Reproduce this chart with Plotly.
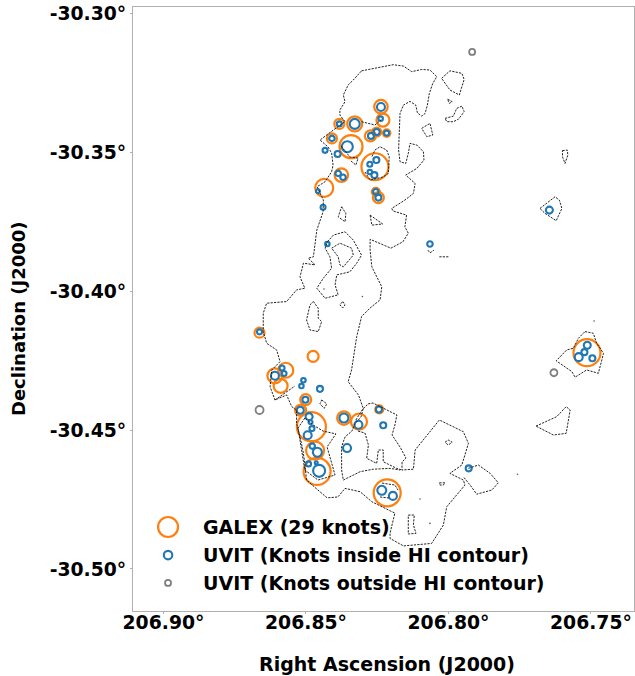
import plotly.graph_objects as go

X_TICKS = [206.90, 206.85, 206.80, 206.75]
X_LABELS = ["206.90°", "206.85°", "206.80°", "206.75°"]
Y_TICKS = [-30.30, -30.35, -30.40, -30.45, -30.50]
Y_LABELS = ["-30.30°", "-30.35°", "-30.40°", "-30.45°", "-30.50°"]

# Knot catalogues: (RA, Dec, apparent size)
GALEX = [
    (206.8237,-30.3337,13.5),(206.8230,-30.3385,13),(206.8329,-30.3399,15),(206.8383,-30.3399,10),
    (206.8409,-30.3451,10),(206.8274,-30.3442,11),(206.8252,-30.3428,9),(206.8217,-30.3432,7.5),
    (206.8342,-30.3481,23),(206.8258,-30.3553,27),(206.8376,-30.3583,13.5),(206.8436,-30.3629,18),
    (206.8255,-30.3643,8),(206.8246,-30.3664,11),(206.8663,-30.4150,10),(206.8475,-30.4235,11),
    (206.8571,-30.4285,15),(206.8609,-30.4305,15),(206.8589,-30.4341,14),(206.8501,-30.4391,11),
    (206.8519,-30.4429,11),(206.8481,-30.4488,29),(206.8367,-30.4457,13.5),(206.8314,-30.4470,16),
    (206.8243,-30.4426,8),(206.8468,-30.4574,18),(206.8461,-30.4649,27),(206.8215,-30.4726,27),
    (206.7514,-30.4222,27),
]
UVIT_IN = [
    (206.8237,-30.3338,8),(206.8238,-30.3380,4.5),(206.8329,-30.3399,10),(206.8383,-30.3399,5),
    (206.8409,-30.3451,5.5),(206.8433,-30.3494,5),(206.8389,-30.3507,6),(206.8355,-30.3481,11),
    (206.8272,-30.3442,6),(206.8252,-30.3428,6),(206.8217,-30.3432,5),(206.8253,-30.3529,6),
    (206.8276,-30.3544,5),(206.8276,-30.3572,4.5),(206.8260,-30.3583,6),(206.8387,-30.3577,5.5),
    (206.8370,-30.3591,5.5),(206.8458,-30.3641,4),(206.8255,-30.3643,5.5),(206.8246,-30.3664,6),
    (206.8440,-30.3699,5),(206.8425,-30.3831,4.5),(206.8065,-30.3831,5.5),(206.8663,-30.4147,5),
    (206.8584,-30.4277,5),(206.8577,-30.4297,5),(206.8609,-30.4305,8),(206.8509,-30.4321,4.5),
    (206.8516,-30.4342,4.5),(206.8451,-30.4352,6),(206.8502,-30.4391,6),(206.8520,-30.4429,7),
    (206.8489,-30.4452,7),(206.8484,-30.4472,4),(206.8479,-30.4495,5),(206.8494,-30.4519,8),
    (206.8367,-30.4457,9),(206.8316,-30.4481,8),(206.8244,-30.4426,6),(206.8229,-30.4483,6),
    (206.8356,-30.4565,8),(206.8478,-30.4558,5.5),(206.8460,-30.4580,9),(206.8491,-30.4622,5),
    (206.8464,-30.4618,3),(206.8454,-30.4647,12),(206.7929,-30.4638,6),(206.8234,-30.4717,9),
    (206.8195,-30.4737,8),(206.7646,-30.3709,7),(206.7513,-30.4195,7),(206.7523,-30.4220,6),
    (206.7543,-30.4238,8),(206.7495,-30.4242,6),
]
UVIT_OUT = [(206.7917,-30.3140,6),(206.8663,-30.4428,8),(206.7630,-30.4294,7)]

# HI contour tracings (RA, Dec)
HI_MAIN = [
    (206.8305,-30.3208),(206.8264,-30.3199),(206.8229,-30.3191),(206.8194,-30.3186),(206.8158,-30.3191),
    (206.8129,-30.3211),(206.8094,-30.3203),(206.8065,-30.3205),(206.8041,-30.3229),(206.8055,-30.3253),
    (206.8067,-30.3289),(206.8074,-30.3331),(206.8082,-30.3361),(206.8094,-30.3371),(206.8109,-30.3359),
    (206.8115,-30.3331),(206.8135,-30.3318),(206.8158,-30.3331),(206.8170,-30.3361),(206.8173,-30.3421),
    (206.8175,-30.3493),(206.8170,-30.3535),(206.8150,-30.3541),(206.8141,-30.3505),(206.8135,-30.3469),
    (206.8111,-30.3475),(206.8088,-30.3499),(206.8086,-30.3529),(206.8111,-30.3559),(206.8150,-30.3583),
    (206.8117,-30.3613),(206.8123,-30.3649),(206.8153,-30.3673),(206.8199,-30.3703),(206.8195,-30.3712),
    (206.8147,-30.3727),(206.8153,-30.3769),(206.8141,-30.3792),(206.8160,-30.3823),(206.8202,-30.3846),
    (206.8246,-30.3828),(206.8275,-30.3814),(206.8275,-30.3853),(206.8269,-30.3913),(206.8234,-30.3985),
    (206.8240,-30.4032),(206.8275,-30.4061),(206.8305,-30.4092),(206.8322,-30.4164),(206.8340,-30.4284),
    (206.8352,-30.4326),(206.8316,-30.4374),(206.8299,-30.4422),(206.8307,-30.4453),(206.8328,-30.4478),
    (206.8339,-30.4504),(206.8363,-30.4525),(206.8375,-30.4560),(206.8375,-30.4644),(206.8369,-30.4680),
    (206.8310,-30.4650),(206.8264,-30.4641),(206.8205,-30.4638),(206.8170,-30.4644),
]
HI_SOUTH = [
    (206.8325,-30.4464),(206.8303,-30.4428),(206.8282,-30.4406),(206.8265,-30.4403),(206.8216,-30.4428),
    (206.8181,-30.4446),(206.8188,-30.4482),(206.8198,-30.4518),(206.8170,-30.4561),(206.8149,-30.4601),
    (206.8163,-30.4615),(206.8163,-30.4644),(206.8123,-30.4641),(206.8117,-30.4572),(206.8032,-30.4464),
    (206.7948,-30.4506),(206.7930,-30.4548),(206.7953,-30.4626),(206.7995,-30.4656),(206.7948,-30.4680),
    (206.7942,-30.4698),(206.8006,-30.4776),(206.8018,-30.4842),(206.8059,-30.4908),(206.8158,-30.4917),
    (206.8205,-30.4890),(206.8205,-30.4871),(206.8188,-30.4799),(206.8246,-30.4770),(206.8269,-30.4758),
    (206.8310,-30.4722),(206.8363,-30.4710),(206.8388,-30.4741),(206.8426,-30.4744),(206.8458,-30.4716),
    (206.8498,-30.4680),(206.8504,-30.4620),(206.8511,-30.4572),(206.8521,-30.4524),(206.8533,-30.4476),
    (206.8533,-30.4428),(206.8550,-30.4416),(206.8568,-30.4374),(206.8609,-30.4392),(206.8626,-30.4344),
    (206.8620,-30.4284),(206.8591,-30.4254),(206.8603,-30.4212),(206.8638,-30.4188),(206.8650,-30.4146),
    (206.8650,-30.4080),(206.8638,-30.4044),(206.8568,-30.4038),(206.8533,-30.3996),(206.8504,-30.3990),
    (206.8521,-30.3949),(206.8509,-30.3900),(206.8468,-30.3906),(206.8492,-30.3882),(206.8474,-30.3877),
    (206.8462,-30.3781),(206.8440,-30.3715),(206.8439,-30.3673),(206.8461,-30.3625),(206.8433,-30.3607),
    (206.8410,-30.3571),(206.8405,-30.3547),(206.8410,-30.3504),(206.8423,-30.3481),(206.8451,-30.3457),
    (206.8404,-30.3421),(206.8363,-30.3391),(206.8381,-30.3367),(206.8381,-30.3349),(206.8363,-30.3319),
    (206.8369,-30.3295),(206.8352,-30.3259),(206.8334,-30.3241),(206.8305,-30.3208),
]
HI_PIECES = [
    [(206.8504,-30.4457),(206.8528,-30.4493),(206.8504,-30.4644),(206.8458,-30.4680),(206.8398,-30.4662),
     (206.8412,-30.4608),(206.8426,-30.4561),(206.8395,-30.4514),(206.8440,-30.4504),(206.8475,-30.4482),(206.8504,-30.4457)],
    [(206.8609,-30.4392),(206.8574,-30.4367),(206.8539,-30.4342)],
    [(206.8425,-30.3823),(206.8404,-30.3799),(206.8363,-30.3787),(206.8334,-30.3817),(206.8305,-30.3871),
     (206.8322,-30.3900),(206.8346,-30.3931),(206.8392,-30.3942),(206.8398,-30.3978),(206.8387,-30.4014),
     (206.8433,-30.4026),(206.8462,-30.3990),(206.8439,-30.3954),(206.8410,-30.3918),(206.8416,-30.3877),
     (206.8433,-30.3846),(206.8425,-30.3823)],
    [(206.8410,-30.3846),(206.8381,-30.3828),(206.8340,-30.3846),(206.8334,-30.3871),(206.8369,-30.3913),
     (206.8381,-30.3906),(206.8387,-30.3877),(206.8410,-30.3846)],
    [(206.8375,-30.3697),(206.8360,-30.3721),(206.8363,-30.3751),(206.8387,-30.3733),(206.8375,-30.3697)],
    [(206.8275,-30.3727),(206.8231,-30.3759),(206.8269,-30.3763),(206.8275,-30.3727)],
    [(206.8474,-30.4038),(206.8457,-30.4062),(206.8457,-30.4098),(206.8445,-30.4110),(206.8457,-30.4146),
     (206.8486,-30.4140),(206.8498,-30.4104),(206.8486,-30.4050),(206.8474,-30.4038)],
    [(206.8371,-30.4038),(206.8363,-30.4050),(206.8371,-30.4061),(206.8381,-30.4050),(206.8371,-30.4038)],
    [(206.8445,-30.4392),(206.8427,-30.4406),(206.8436,-30.4422),(206.8451,-30.4406),(206.8445,-30.4392)],
    [(206.8024,-30.3235),(206.7995,-30.3208),(206.7953,-30.3217),(206.7945,-30.3239),(206.7962,-30.3295),
     (206.7995,-30.3277),(206.8024,-30.3235)],
    [(206.8003,-30.3310),(206.7987,-30.3319),(206.7997,-30.3325),(206.8003,-30.3310)],
    [(206.8012,-30.3379),(206.7983,-30.3371),(206.7971,-30.3343),(206.7953,-30.3335),(206.7945,-30.3355),
     (206.7965,-30.3382),(206.7983,-30.3391),(206.8006,-30.3391),(206.8012,-30.3379)],
    [(206.8094,-30.3415),(206.8065,-30.3397),(206.8055,-30.3439),(206.8076,-30.3445),(206.8094,-30.3415)],
    [(206.8072,-30.3853),(206.8065,-30.3863),(206.8051,-30.3853)],
    [(206.8032,-30.3877),(206.7997,-30.3877)],
    [(206.7600,-30.3495),(206.7583,-30.3493),(206.7581,-30.3511),(206.7591,-30.3541),(206.7600,-30.3517),(206.7600,-30.3495)],
    [(206.7679,-30.3703),(206.7626,-30.3661),(206.7611,-30.3673),(206.7602,-30.3703),(206.7622,-30.3747),
     (206.7661,-30.3721),(206.7679,-30.3703)],
    [(206.7521,-30.4146),(206.7492,-30.4152),(206.7480,-30.4188),(206.7456,-30.4224),(206.7474,-30.4296),
     (206.7515,-30.4284),(206.7556,-30.4310),(206.7567,-30.4290),(206.7622,-30.4251),(206.7585,-30.4212),
     (206.7562,-30.4206),(206.7544,-30.4170),(206.7521,-30.4146)],
    [(206.7693,-30.4486),(206.7620,-30.4452),(206.7587,-30.4416),(206.7573,-30.4428),(206.7587,-30.4512),
     (206.7632,-30.4518),(206.7693,-30.4486)],
    [(206.7930,-30.4638),(206.7895,-30.4626),(206.7854,-30.4656),(206.7825,-30.4690),(206.7848,-30.4716),
     (206.7901,-30.4731),(206.7924,-30.4698),(206.7948,-30.4668)],
    [(206.8012,-30.4544),(206.8001,-30.4536),(206.7987,-30.4544),(206.8001,-30.4554),(206.8012,-30.4544)],
    [(206.8032,-30.4690),(206.8012,-30.4690),(206.8018,-30.4698),(206.8030,-30.4698),(206.8032,-30.4690)],
    [(206.8141,-30.4806),(206.8120,-30.4806),(206.8123,-30.4842),(206.8114,-30.4872),(206.8141,-30.4874),
     (206.8141,-30.4842),(206.8141,-30.4806)],
    [(206.8305,-30.3391),(206.8258,-30.3403),(206.8237,-30.3385)],
    [(206.8293,-30.3572),(206.8275,-30.3601),(206.8230,-30.3590),(206.8211,-30.3577),(206.8208,-30.3517),
     (206.8217,-30.3493),(206.8240,-30.3481),(206.8258,-30.3493),(206.8269,-30.3517)],
    [(206.8377,-30.3478),(206.8346,-30.3518),(206.8317,-30.3522),(206.8325,-30.3547),(206.8346,-30.3529)],
    [(206.8233,-30.4691),(206.8188,-30.4698),(206.8177,-30.4716)],
    [(206.8240,-30.4741),(206.8205,-30.4745)],
    [(206.8317,-30.4504),(206.8293,-30.4511),(206.8281,-30.4554),(206.8287,-30.4602),(206.8252,-30.4620),
     (206.8246,-30.4572),(206.8229,-30.4572),(206.8229,-30.4614),(206.8182,-30.4638),(206.8163,-30.4644)],
]
HI_SPECKS = [(206.8437,-30.3993),(206.8302,-30.4020),(206.8100,-30.4748),(206.8065,-30.4836),(206.7758,-30.4659),(206.7489,-30.4108)]

LEGEND_LABELS = ["GALEX (29 knots)", "UVIT (Knots inside HI contour)", "UVIT (Knots outside HI contour)"]
LEGEND_KEYS = [(206.8984,-30.4849,20),(206.8984,-30.4950,8.5),(206.8984,-30.5050,6)]
X_TITLE = "Right Ascension (J2000)"
Y_TITLE = "Declination (J2000)"
ORANGE, BLUE, GRAY = "#ff7f0e", "#1f77b4", "#7f7f7f"
FONT = "DejaVu Sans"

fig = go.Figure()


def knots(rows, color, width, name):
    fig.add_trace(go.Scatter(
        x=[r[0] for r in rows], y=[r[1] for r in rows], mode="markers", name=name,
        marker=dict(symbol="circle-open", size=[r[2] for r in rows], color=color, opacity=1,
                    line=dict(width=width, color=color)),
        hoverinfo="skip", showlegend=False))


knots(GALEX, ORANGE, 2.2, "GALEX")
knots(UVIT_IN, BLUE, 2.1, "UVIT inside")
knots(UVIT_OUT, GRAY, 1.8, "UVIT outside")

for piece in [HI_MAIN, HI_SOUTH] + HI_PIECES:
    fig.add_trace(go.Scatter(
        x=[p[0] for p in piece], y=[p[1] for p in piece], mode="lines",
        line=dict(color="#222222", width=1, dash="2.2px,1.2px"), hoverinfo="skip", showlegend=False))
fig.add_trace(go.Scatter(
    x=[p[0] for p in HI_SPECKS], y=[p[1] for p in HI_SPECKS], mode="markers",
    marker=dict(size=1.6, color="#555555"), hoverinfo="skip", showlegend=False))

for (ra, dec, size), color, width in zip(LEGEND_KEYS, [ORANGE, BLUE, GRAY], [2.2, 2.1, 1.8]):
    fig.add_trace(go.Scatter(
        x=[ra], y=[dec], mode="markers",
        marker=dict(symbol="circle-open", size=size, color=color, opacity=1, line=dict(width=width, color=color)),
        hoverinfo="skip", showlegend=False))

for label, yp in zip(LEGEND_LABELS, [0.139, 0.0927, 0.0464]):
    fig.add_annotation(text=label, xref="paper", yref="paper", x=0.1355, y=yp, xanchor="left", yanchor="middle",
                       showarrow=False, font=dict(family=FONT, size=19, color="#000000", weight=700))
fig.add_annotation(text=X_TITLE, xref="paper", yref="paper", x=0.5075, y=-0.0877, xanchor="center", yanchor="middle",
                   showarrow=False, font=dict(family=FONT, size=19, color="#000000", weight=700))
fig.add_annotation(text=Y_TITLE, xref="paper", yref="paper", x=-0.2295, y=0.4834, xanchor="center", yanchor="middle",
                   textangle=-90, showarrow=False, font=dict(family=FONT, size=18, color="#000000", weight=700))

axis_common = dict(showgrid=False, zeroline=False, showline=True, mirror=True, linecolor="#b0b0b0", linewidth=1,
                   ticks="outside", ticklen=2, tickwidth=1, tickcolor="#b0b0b0",
                   tickfont=dict(family=FONT, size=18.8, color="#000000", weight=700))
fig.update_xaxes(range=[206.9107, 206.7349], tickmode="array", tickvals=X_TICKS, ticktext=X_LABELS,
                 ticklabelstandoff=-8, **axis_common)
fig.update_yaxes(range=[-30.51511, -30.29784], tickmode="array", tickvals=Y_TICKS, ticktext=Y_LABELS,
                 **axis_common)
fig.update_layout(width=635, height=676, margin=dict(l=133, r=1, t=7, b=65, autoexpand=False),
                  paper_bgcolor="white", plot_bgcolor="white", showlegend=False)
fig.write_html("out.html", config=dict(displayModeBar=False),
               post_script="document.body.style.margin='0';document.documentElement.style.overflow='hidden';")
